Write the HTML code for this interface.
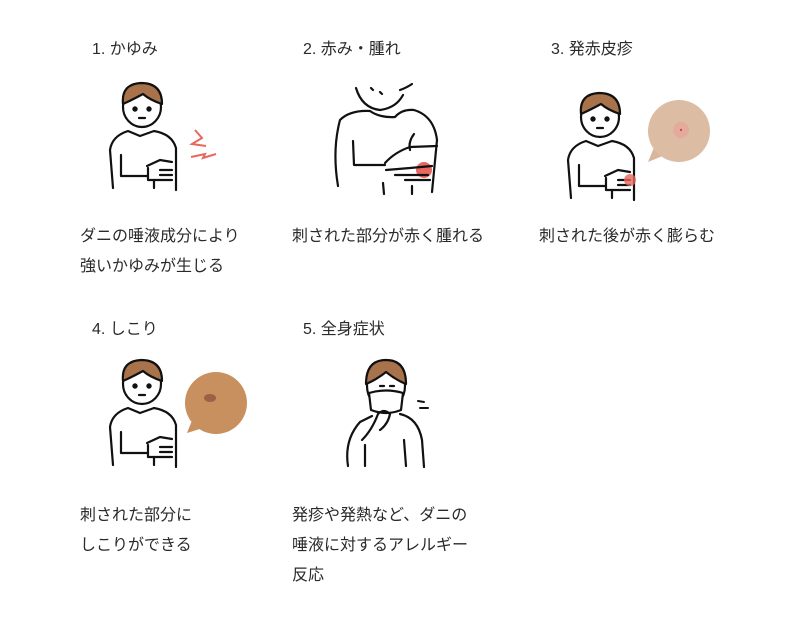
<!DOCTYPE html>
<html><head><meta charset="utf-8"><style>
body{margin:0;background:#fff;}
svg text{font-family:"Liberation Sans","Noto Sans CJK JP",sans-serif;fill:#2a2a2a;font-size:16px;}
</style></head><body>
<svg width="800" height="617" viewBox="0 0 800 617" xmlns="http://www.w3.org/2000/svg">
<defs>
<g id="p" fill="none" stroke="#111" stroke-width="2.2" stroke-linecap="round" stroke-linejoin="round">
  <path d="M113 188 L110 150 Q112 136 128 131 L140 136 L154 131 Q172 134 176 148 L176 190" fill="#fff"/>
  <path d="M121 155 L121 176 L147 176"/>
  <path d="M147 166 L160 160 L172 162 M148 168 L148 180 L172 180 M160 170 L172 170 M160 175 L172 175"/>
  <path d="M154 181 L154 188"/>
  <ellipse cx="142" cy="107" rx="19" ry="20" fill="#fff"/>
  <path d="M123 104 Q121 84 141 83 Q162 83 162 104 Q150 100 143 94 Q132 100 123 104Z" fill="#a8734a"/>
  <circle cx="135" cy="109" r="1.6" fill="#111"/><circle cx="149" cy="109" r="1.6" fill="#111"/>
  <path d="M139 118 L145 118"/>
</g>
</defs>
<text x="92" y="54">1. かゆみ</text>
<text x="303" y="54">2. 赤み・腫れ</text>
<text x="551" y="54">3. 発赤皮疹</text>
<text x="92" y="334">4. しこり</text>
<text x="303" y="334">5. 全身症状</text>

<use href="#p"/>
<path d="M195 130 L202 138 L192 144 L206 146 M191 157 L205 154 L203 158 L216 154" stroke="#e8675f" stroke-width="2" fill="none"/>

<g fill="none" stroke="#111" stroke-width="2.2" stroke-linecap="round" stroke-linejoin="round">
  <path d="M356 88 Q362 108 380 110 Q396 108 403 95"/>
  <path d="M400 90 Q406 88 412 84"/>
  <path d="M338 186 Q332 150 340 120 Q350 110 370 111 Q380 118 395 117 Q402 109 414 110 Q434 116 437 140 L432 192"/>
  <path d="M353 141 L354 165 L385 165"/>
  <path d="M414 134 Q408 142 410 150"/>
  <circle cx="424" cy="170" r="8" fill="#e8675f" stroke="none"/>
  <path d="M385 163 Q395 152 410 147 L437 146 M386 170 L410 168 M395 175 L428 175 M410 168 L432 166 M405 180 L430 180 M412 186 L412 194 M383 183 L384 194"/>
  <path d="M371 88 L373 90 M380 92 L382 94"/>
</g>

<use href="#p" transform="translate(458,10)"/>
<circle cx="630" cy="180" r="6" fill="#e8675f" opacity=".8"/>
<path d="M655 145 L648 162 L665 155Z" fill="#d9b59b"/>
<circle cx="679" cy="131" r="31" fill="#dcbca3"/>
<circle cx="681" cy="130" r="8" fill="#e9a098" opacity=".6"/>
<circle cx="681" cy="130" r="1.2" fill="#c0504a"/>

<use href="#p" transform="translate(0,277)"/>
<path d="M193 418 L187 433 L203 428Z" fill="#c8905e"/>
<circle cx="216" cy="403" r="31" fill="#c8905e"/>
<ellipse cx="210" cy="398" rx="6" ry="4" fill="#8a4b3a" opacity=".7"/>

<g fill="none" stroke="#111" stroke-width="2.2" stroke-linecap="round" stroke-linejoin="round">
  <ellipse cx="386" cy="386" rx="19" ry="22" fill="#fff"/>
  <path d="M366 384 Q366 360 386 360 Q406 360 406 384 Q396 380 386 372 Q376 380 366 384Z" fill="#a8734a"/>
  <path d="M369 393 Q386 388 403 393 L401 410 Q386 416 371 410Z" fill="#fff"/>
  <path d="M380 386 L384 386 M390 386 L394 386"/>
  <path d="M348 466 Q344 440 360 422 L372 416 M400 414 Q418 418 422 440 L424 467"/>
  <path d="M362 440 Q372 430 378 414 Q384 408 390 414 Q388 424 380 430 M365 445 L365 466 M404 440 L406 466"/>
  <path d="M418 401 L424 402 M420 408 L428 408" stroke-width="2"/>
</g>

<text x="80" y="241">ダニの唾液成分により</text>
<text x="80" y="271">強いかゆみが生じる</text>
<text x="292" y="241">刺された部分が赤く腫れる</text>
<text x="539" y="241">刺された後が赤く膨らむ</text>
<text x="80" y="520">刺された部分に</text>
<text x="80" y="550">しこりができる</text>
<text x="292" y="520">発疹や発熱など、ダニの</text>
<text x="292" y="550">唾液に対するアレルギー</text>
<text x="292" y="580">反応</text>
</svg>
</body></html>
